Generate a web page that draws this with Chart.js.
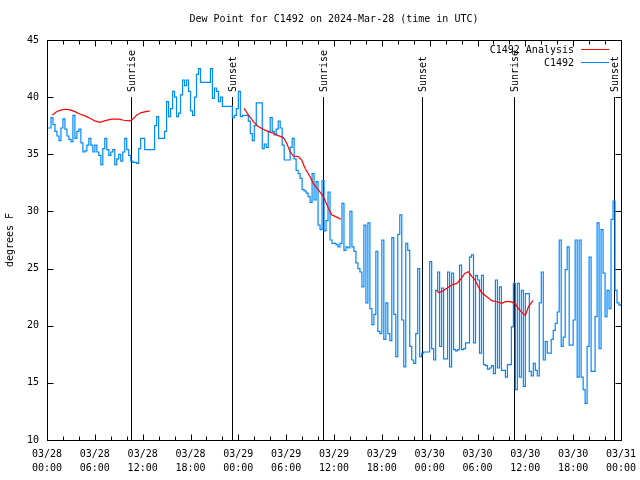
<!DOCTYPE html>
<html>
<head>
<meta charset="utf-8">
<script src="https://cdn.jsdelivr.net/npm/chart.js@4.4.1/dist/chart.umd.min.js"></script>
<style>
  html, body { margin: 0; padding: 0; background: #fff; }
  #chart { display: block; }
</style>
</head>
<body>
<canvas id="chart" width="640" height="480"></canvas>
<script>
'use strict';

// ---------------------------------------------------------------------------
// data (hours since 03/28 00:00 UTC, dew point in deg F)
// ---------------------------------------------------------------------------

const TITLE = 'Dew Point for C1492 on 2024-Mar-28 (time in UTC)';

// station obs, one every 15 minutes from 03/28 00:00 to 03/31 00:00
const stationStepHours = 0.25;
const stationValues = [
    37.3, 37.3, 38.2, 37.6, 37.0, 36.6, 36.2, 37.3, 38.1, 37.2, 36.6, 36.3, 36.1, 38.4, 36.4, 37.0, 37.2, 36.0, 35.2, 35.3, 35.8, 36.4, 35.8, 35.2,
    35.8, 35.2, 34.9, 34.1, 35.5, 36.4, 35.4, 34.9, 35.2, 35.4, 34.1, 34.6, 35.0, 34.4, 35.2, 36.4, 35.4, 34.9, 34.4, 34.3, 34.3, 34.2, 35.5, 36.4,
    36.4, 35.4, 35.4, 35.4, 35.4, 35.4, 37.5, 38.3, 36.4, 36.4, 36.4, 37.0, 39.6, 38.3, 39.0, 40.5, 40.0, 38.3, 38.6, 40.2, 41.5, 41.0, 41.5, 40.5,
    38.8, 38.4, 40.0, 42.0, 42.5, 41.3, 41.3, 41.3, 41.3, 41.3, 42.5, 39.9, 40.8, 40.5, 39.6, 40.0, 39.2, 39.2, 39.2, 39.2, 39.2, 38.2, 38.4, 39.0,
    40.5, 38.3, 38.4, 38.4, 38.4, 37.9, 36.8, 36.2, 37.5, 39.5, 39.5, 39.5, 35.5, 35.9, 35.6, 37.0, 38.2, 37.0, 36.7, 37.2, 37.9, 37.3, 35.8, 34.5,
    34.5, 34.5, 35.6, 36.4, 34.6, 33.6, 33.3, 32.9, 31.9, 31.8, 31.6, 31.3, 30.8, 33.3, 31.0, 32.6, 28.8, 28.4, 32.7, 28.3, 29.2, 31.7, 27.5, 27.2,
    27.2, 27.1, 26.9, 27.2, 30.7, 26.6, 26.9, 26.8, 30.0, 26.9, 26.5, 25.5, 25.0, 24.7, 23.4, 28.8, 22.0, 29.0, 21.5, 20.1, 21.0, 26.5, 19.5, 19.3,
    27.5, 18.8, 22.0, 19.3, 18.7, 27.7, 21.0, 17.3, 28.0, 29.7, 20.5, 16.4, 27.2, 26.6, 18.2, 17.0, 16.7, 19.3, 25.0, 17.3, 17.6, 17.7, 17.7, 17.7,
    25.6, 18.0, 17.0, 23.1, 24.7, 18.2, 23.3, 17.1, 17.1, 24.7, 16.4, 24.6, 17.9, 17.8, 17.9, 25.3, 17.9, 18.0, 18.5, 18.5, 26.0, 26.2, 18.5, 24.4,
    24.0, 17.6, 24.4, 16.6, 16.5, 16.2, 16.3, 16.5, 15.8, 24.0, 16.3, 23.4, 16.1, 16.1, 15.5, 16.6, 16.6, 19.9, 23.7, 14.4, 23.7, 15.5, 23.1, 14.7,
    22.8, 22.8, 16.0, 15.6, 16.7, 16.1, 15.6, 22.0, 24.7, 17.0, 18.6, 17.6, 17.6, 18.8, 19.6, 20.2, 21.2, 27.5, 18.2, 19.0, 24.9, 26.9, 18.3, 18.3,
    20.5, 27.5, 15.5, 27.5, 15.5, 14.4, 13.2, 18.2, 26.0, 16.0, 16.0, 20.8, 29.0, 18.0, 28.4, 24.6, 20.8, 23.1, 21.5, 29.3, 30.9, 23.1, 22.0, 21.8,
    21.9,
];

// analysis curve: times (h) and values, null marks a gap
const analysisHours = [
    0.67, 1.2, 1.8, 2.45, 2.9, 3.5, 4.1, 4.77, 5.4, 6.0, 6.65, 7.3, 8.1, 9.0, 9.6, 10.4, 10.8, 11.2, 11.8, 12.4, 12.9,
    18.0,
    24.72, 25.26, 25.89, 26.5, 27.14, 27.77, 28.4, 29.0, 29.65, 30.07, 30.49, 30.9, 31.53, 31.95, 32.37, 33.0, 33.4, 34.04, 34.67, 35.3, 35.7, 36.35, 36.85,
    42.0,
    48.9, 49.1, 49.5, 50.15, 50.78, 51.4, 51.8, 52.4, 52.86, 53.3, 53.7, 54.1, 54.5, 55.17, 55.8, 56.4, 57.05, 57.47, 58.1, 58.7, 59.13, 59.6, 60.0, 60.4, 60.95,
];
const analysisValues = [
    38.44, 38.73, 38.88, 38.94, 38.88, 38.73, 38.53, 38.36, 38.15, 37.92, 37.8, 37.95, 38.07, 38.07, 37.98, 37.92, 38.1, 38.4, 38.65, 38.73, 38.8,
    null,
    39.02, 38.44, 37.86, 37.42, 37.19, 36.98, 36.84, 36.63, 36.46, 35.96, 35.23, 34.85, 34.79, 34.5, 33.77, 33.04, 32.46, 31.88, 31.3, 30.28, 29.7, 29.5, 29.32,
    null,
    23.1, 22.9, 22.98, 23.27, 23.56, 23.7, 24.0, 24.58, 24.73, 24.29, 24.0, 23.42, 22.9, 22.54, 22.19, 22.1, 21.96, 22.1, 22.1, 21.96, 21.5, 21.14, 20.9, 21.67, 22.2,
];

const sunEventHours = [10.54, 23.17, 34.67, 47.1, 58.63, 71.18];
const sunEventNames = ['Sunrise', 'Sunset', 'Sunrise', 'Sunset', 'Sunrise', 'Sunset'];

const xTickHours = [0, 6, 12, 18, 24, 30, 36, 42, 48, 54, 60, 66, 72];
const xTickDates = ['03/28', '03/28', '03/28', '03/28', '03/29', '03/29', '03/29', '03/29', '03/30', '03/30', '03/30', '03/30', '03/31'];
const xTickTimes = ['00:00', '06:00', '12:00', '18:00', '00:00', '06:00', '12:00', '18:00', '00:00', '06:00', '12:00', '18:00', '00:00'];
const yTickValues = [10, 15, 20, 25, 30, 35, 40, 45];

// ---------------------------------------------------------------------------
// styles
// ---------------------------------------------------------------------------

const FONT_FAMILY = '"DejaVu Sans Mono", "Liberation Mono", monospace';
const FONT = '10px ' + FONT_FAMILY;
const RED  = '#ff0000';
const BLUE = '#0088ff';

const stationPoints  = stationValues.map((v, i) => ({ x: i * stationStepHours, y: v }));
const analysisPoints = analysisHours.map((h, i) => ({ x: h, y: analysisValues[i] }));

// border, inward ticks, sunrise/sunset markers, title and key, gnuplot style
const gnuplotFrame = {
    id: 'gnuplotFrame',
    beforeDatasetsDraw(chart) {
        const { ctx, chartArea: a, scales: { x } } = chart;
        ctx.save();
        ctx.strokeStyle = '#000';
        ctx.fillStyle = '#000';
        ctx.lineWidth = 1;
        ctx.font = FONT;
        sunEventHours.forEach((h, k) => {
            const px = Math.round(x.getPixelForValue(h)) + 0.5;
            ctx.beginPath();
            ctx.moveTo(px, a.top + 57);
            ctx.lineTo(px, a.bottom);
            ctx.stroke();
            ctx.save();
            ctx.translate(px + 1, a.top + 52);
            ctx.rotate(-Math.PI / 2);
            ctx.textAlign = 'left';
            ctx.textBaseline = 'middle';
            ctx.fillText(sunEventNames[k], 0, 0);
            ctx.restore();
        });
        ctx.restore();
    },
    afterDraw(chart) {
        const { ctx, chartArea: a, scales: { x, y } } = chart;
        ctx.save();
        ctx.strokeStyle = '#000';
        ctx.fillStyle = '#000';
        ctx.lineWidth = 1;

        const L = Math.round(a.left) + 0.5, R = Math.round(a.right) + 0.5;
        const T = Math.round(a.top) + 0.5,  B = Math.round(a.bottom) + 0.5;

        // ticks: x every 2 h (longer every 6 h), y every 5
        ctx.beginPath();
        for (let h = 0; h <= 72; h += 2) {
            const px = Math.round(x.getPixelForValue(h)) + 0.5;
            const len = h % 6 === 0 ? 6 : 4;
            ctx.moveTo(px, B); ctx.lineTo(px, B - len);
            ctx.moveTo(px, T); ctx.lineTo(px, T + len);
        }
        yTickValues.forEach(v => {
            const py = Math.round(y.getPixelForValue(v)) + 0.5;
            ctx.moveTo(L, py); ctx.lineTo(L + 6, py);
            ctx.moveTo(R, py); ctx.lineTo(R - 6, py);
        });
        ctx.stroke();
        ctx.strokeRect(L, T, R - L, B - T);

        ctx.font = FONT;
        ctx.textBaseline = 'middle';

        // title
        ctx.textAlign = 'center';
        ctx.fillText(TITLE, (a.left + a.right) / 2, 19);

        // y axis title
        ctx.save();
        ctx.translate(10, (a.top + a.bottom) / 2);
        ctx.rotate(-Math.PI / 2);
        ctx.fillText('degrees F', 0, 0);
        ctx.restore();

        // key
        const keys = [['C1492 Analysis', RED], ['C1492', BLUE]];
        keys.forEach(([label, color], k) => {
            const ky = a.top + 10 + k * 13;
            ctx.textAlign = 'right';
            ctx.fillStyle = '#000';
            ctx.fillText(label, a.right - 47, ky);
            ctx.strokeStyle = color;
            ctx.beginPath();
            ctx.moveTo(a.right - 40, Math.round(ky) - 0.5);
            ctx.lineTo(a.right - 12, Math.round(ky) - 0.5);
            ctx.stroke();
        });
        ctx.restore();
    },
};

new Chart(document.getElementById('chart'), {
    type: 'line',
    data: {
        datasets: [
            {
                label: 'C1492 Analysis',
                data: analysisPoints,
                borderColor: RED,
                borderWidth: 1.2,
                pointRadius: 0,
                tension: 0,
                spanGaps: false,
            },
            {
                label: 'C1492',
                data: stationPoints,
                borderColor: BLUE,
                borderWidth: 1.2,
                pointRadius: 0,
                stepped: true,
            },
        ],
    },
    options: {
        responsive: false,
        animation: false,
        devicePixelRatio: 1,
        layout: { padding: { top: 40, right: 19, left: 0, bottom: 0 } },
        plugins: {
            legend:  { display: false },
            title:   { display: false },
            tooltip: { enabled: false },
        },
        scales: {
            x: {
                type: 'linear',
                min: 0,
                max: 72,
                afterBuildTicks: (s) => { s.ticks = xTickHours.map(v => ({ value: v })); },
                afterFit: (s) => { s.height = 40; s.paddingLeft = 0; s.paddingRight = 0; },
                grid:   { display: false, drawTicks: false },
                border: { display: false },
                ticks: {
                    autoSkip: false,
                    maxRotation: 0,
                    padding: 7,
                    color: '#000',
                    font: { family: FONT_FAMILY, size: 10, lineHeight: 1.4 },
                    callback: (v, i) => [xTickDates[i], xTickTimes[i]],
                },
            },
            y: {
                min: 10,
                max: 45,
                afterBuildTicks: (s) => { s.ticks = yTickValues.map(v => ({ value: v })); },
                afterFit: (s) => { s.width = 47; },
                grid:   { display: false, drawTicks: false },
                border: { display: false },
                ticks: {
                    padding: 8,
                    color: '#000',
                    font: { family: FONT_FAMILY, size: 10 },
                    callback: (v) => String(v),
                },
            },
        },
    },
    plugins: [gnuplotFrame],
});
</script>
</body>
</html>
